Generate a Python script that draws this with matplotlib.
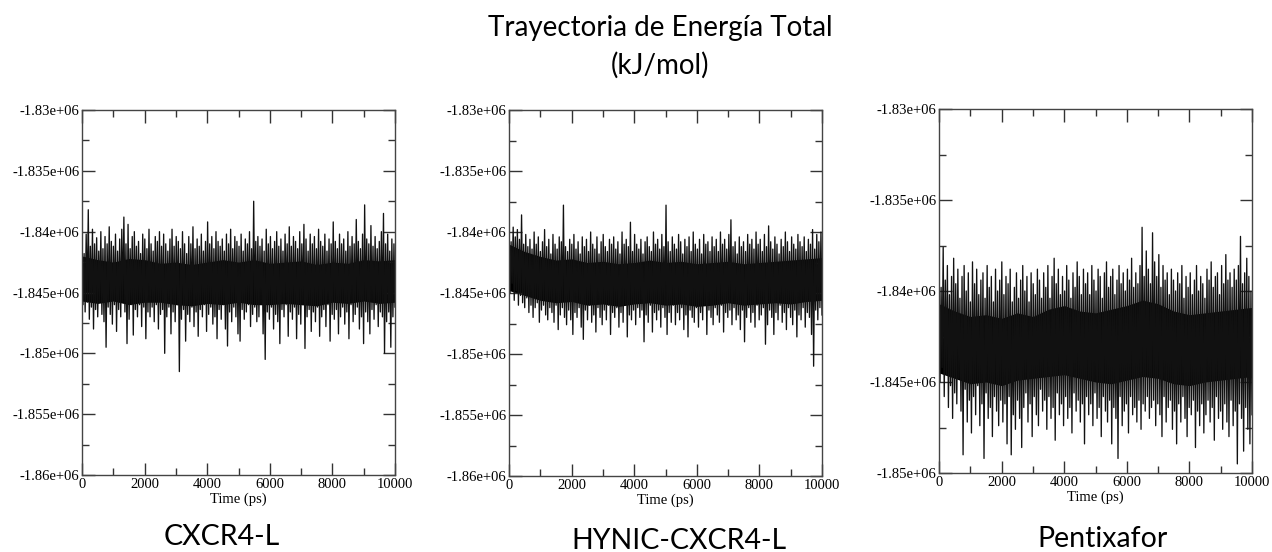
import numpy as np
import matplotlib
matplotlib.use("Agg")
import matplotlib.pyplot as plt
from matplotlib.ticker import MultipleLocator, FuncFormatter

# total energy, offset from -1.84e6 kJ/mol, in units of 100 kJ/mol
cxcr4_l = [
    -8, -60, -18, -66, -2, -58, 18, -72, -12, -62, 2, -80, -10, -64, -5, -70, -16, -58, 0, -68,
    -14, -74, -4, -95, -10, -62, 4, -68, -8, -76, -12, -60, -2, -82, -16, -64, -6, -70, 2, -58,
    12, -66, -10, -92, 6, -72, -14, -60, -4, -85, 0, -64, -12, -70, -8, -60, -18, -78, -2, -62,
    -6, -88, -14, -66, 2, -70, -10, -62, -16, -74, -4, -60, -8, -80, 0, -68, -12, -64, -2, -100,
    -10, -70, -16, -62, -6, -84, 2, -66, -12, -74, -4, -60, -8, -115, -14, -72, 0, -64, -10, -90,
    -18, -68, -4, -74, -10, -62, 4, -78, -14, -66, -6, -86, -12, -64, -2, -70, -16, -60, -8, -82,
    8, -68, -10, -62, -4, -76, -14, -70, 0, -88, -8, -64, -12, -72, -6, -60, -16, -80, -2, -94,
    -10, -66, 2, -74, -14, -62, -4, -70, -8, -84, -12, -90, -2, -64, -16, -72, -6, -66, -10, -60,
    0, -78, -14, -68, 25, -62, -8, -74, -4, -70, -12, -60, -6, -84, -16, -105, 2, -66, -10, -72,
    -4, -62, -14, -80, -8, -68, 0, -74, -12, -92, -6, -64, -16, -70, -2, -60, -10, -86, 4, -66,
    -12, -72, -4, -62, -8, -88, -14, -68, 0, -76, -10, -60, 6, -96, -6, -70, -16, -64, -2, -82,
    -10, -66, -4, -74, -14, -62, 2, -86, -8, -70, -12, -64, -2, -78, -16, -60, -6, -90, -10, -68,
    8, -72, -8, -64, -14, -84, -2, -70, -10, -62, -6, -76, -16, -66, 0, -88, -12, -60, -4, -74,
    -10, -68, 10, -62, -8, -80, -14, -70, -2, -92, 22, -66, -6, -74, -10, -84, 5, -64, -12, -72,
    -4, -60, -14, -78, -8, -66, 0, -70, 15, -100, -10, -74, -2, -66, -16, -95, -6, -70, -10, -62,
]

hynic_cxcr4_l = [
    0, -50, -8, -42, 4, -56, -4, -48, 2, -60, -6, -52, 14, -58, -10, -62, -2, -54, -12, -66,
    -6, -60, -14, -70, 0, -62, -10, -58, -4, -74, -16, -64, -8, -60, 2, -68, -12, -72, -6, -62,
    -18, -66, -2, -74, -10, -60, -14, -80, -4, -68, -8, -62, 22, -70, -12, -76, -16, -64, -6, -72,
    -10, -84, -2, -66, -14, -70, -8, -62, -18, -78, -4, -88, -12, -64, -6, -72, -16, -60, 0, -74,
    -10, -68, -14, -82, -4, -62, -18, -70, -8, -76, -2, -64, -12, -72, -16, -60, -6, -84, -10, -66,
    -4, -70, -14, -62, -8, -78, -18, -66, 0, -74, -10, -60, -6, -86, -12, -68, 8, -72, -16, -64,
    -2, -76, -10, -62, -14, -70, -6, -64, -18, -90, -8, -68, -4, -74, -12, -60, -16, -82, 0, -66,
    -10, -72, -6, -64, -14, -78, -2, -62, -12, -70, 22, -84, -8, -66, -16, -74, -4, -60, -10, -76,
    -14, -66, -2, -72, -8, -62, -18, -80, -6, -68, -12, -86, -4, -64, -16, -70, 0, -74, -10, -62,
    -14, -78, -6, -66, -18, -72, -2, -60, -10, -84, -8, -64, -16, -70, -4, -76, -12, -62, -6, -68,
    -16, -74, 0, -60, -10, -82, -6, -66, -14, -70, -2, -64, 10, -76, -12, -62, -8, -72, -18, -68,
    -4, -80, -12, -64, -8, -90, -16, -70, -2, -62, -10, -74, -6, -66, -14, -78, 0, -60, -10, -72,
    -6, -68, -16, -62, -2, -92, -12, -76, 5, -64, -8, -70, -14, -84, -4, -66, -10, -72, -18, -60,
    -6, -74, -12, -66, 0, -80, -8, -62, -16, -70, -4, -76, -10, -64, -14, -86, -2, -68, -8, -72,
    -12, -62, -4, -78, -16, -66, -6, -70, -10, -84, 2, -110, -14, -64, -2, -72, -8, -62, 0, -68,
]

pentixafor = [
    10, -50, 2, -42, 24, -58, 6, -46, 14, -64, -2, -52, 8, -70, 18, -56, 4, -62, 12, -48,
    -4, -66, 8, -90, 14, -54, 0, -72, 10, -60, -6, -78, 16, -58, 4, -68, 12, -52, -2, -74,
    6, -62, 10, -92, -4, -56, 14, -70, 2, -64, 8, -80, -6, -58, 12, -66, 0, -74, 6, -60,
    16, -72, -2, -62, 8, -84, 4, -58, 12, -90, -6, -68, 2, -76, 10, -60, -4, -70, 6, -86,
    14, -64, 0, -56, 8, -72, -6, -62, 10, -80, 4, -58, -2, -68, 12, -74, 6, -54, -4, -66,
    10, -60, 2, -76, 14, -58, -4, -70, 8, -64, 18, -82, 4, -56, 12, -68, -2, -62, 8, -74,
    0, -58, 14, -70, 6, -64, -4, -78, 10, -56, 2, -66, 16, -60, 8, -72, -2, -62, 12, -84,
    4, -58, 10, -68, -2, -62, 14, -74, 6, -56, 0, -70, 12, -64, 8, -80, -4, -58, 10, -66,
    16, -72, 2, -60, 8, -84, 12, -64, -2, -70, 6, -92, 14, -58, 4, -74, 10, -66, 0, -62,
    12, -78, 6, -58, 18, -68, 2, -64, 10, -72, 4, -60, 14, -76, 35, -62, 8, -66, 22, -58,
    12, -70, 4, -64, 32, -60, 16, -74, 8, -62, 20, -68, 2, -80, 14, -58, 6, -72, 10, -64,
    -2, -60, 12, -76, 6, -66, 0, -84, 10, -62, 4, -72, 14, -58, -4, -70, 8, -80, 2, -64,
    10, -68, -2, -60, 6, -86, 14, -66, 0, -74, 8, -62, 4, -78, -4, -68, 12, -60, 6, -72,
    16, -64, 2, -82, 8, -58, 10, -70, -2, -66, 14, -76, 4, -62, 20, -72, 6, -80, 10, -60,
    2, -74, 12, -66, 6, -95, 14, -62, 30, -70, 4, -88, 10, -64, 18, -76, 8, -84, 0, -68,
]

# solid core of each trace (same units), every 500 ps
core_t = [0, 500, 1000, 1500, 2000, 2500, 3000, 3500, 4000, 4500, 5000,
          5500, 6000, 6500, 7000, 7500, 8000, 8500, 9000, 9500, 10000]
cxcr4_hi = [-20, -23, -25, -22, -23, -26, -25, -27, -25, -23, -25,
            -23, -26, -25, -24, -27, -25, -26, -23, -24, -23]
cxcr4_lo = [-57, -59, -57, -60, -58, -58, -60, -61, -59, -60, -58,
            -60, -60, -59, -60, -61, -58, -59, -57, -59, -58]
hynic_hi = [-10, -16, -20, -23, -22, -25, -24, -26, -25, -23, -25,
            -24, -26, -25, -24, -26, -25, -24, -23, -22, -21]
hynic_lo = [-48, -52, -56, -58, -57, -60, -59, -61, -59, -58, -60,
            -59, -61, -60, -58, -60, -59, -58, -59, -57, -56]
pentix_hi = [-7, -11, -14, -13, -15, -12, -14, -10, -8, -11, -12,
             -10, -8, -5, -7, -11, -13, -12, -11, -10, -9]
pentix_lo = [-45, -48, -51, -50, -52, -49, -48, -47, -46, -48, -50,
             -51, -49, -47, -48, -51, -52, -50, -49, -48, -47]

names = ["CXCR4-L", "HYNIC-CXCR4-L", "Pentixafor"]
series = [cxcr4_l, hynic_cxcr4_l, pentixafor]
cores = [(cxcr4_hi, cxcr4_lo), (hynic_hi, hynic_lo), (pentix_hi, pentix_lo)]
ylims = [(-1.86e6, -1.83e6), (-1.86e6, -1.83e6), (-1.85e6, -1.83e6)]

W, H = 1272, 552
fig = plt.figure(figsize=(W / 100, H / 100), dpi=100)

# axes boxes in pixels: left, top, right, bottom
boxes = [(82, 110, 395, 475), (509, 110, 822, 476), (939, 109, 1252, 473)]
name_pos = [(222, 537), (679, 541), (1103, 539)]

serif = "Liberation Serif"
sans = ["Lato", "DejaVu Sans"]


def fmt(v, pos):
    m, e = ("%.6e" % v).split("e")
    return "%ge+%02d" % (float(m), int(e))


for vals, (hi, lo), (l, t, r, b), yl, nm, (nx, ny) in zip(
        series, cores, boxes, ylims, names, name_pos):
    ax = fig.add_axes([l / W, 1 - b / H, (r - l) / W, (b - t) / H])
    y = -1.84e6 + 100 * np.array(vals, dtype=float)
    x = np.linspace(0, 10000, len(y))
    ax.fill_between(core_t, -1.84e6 + 100 * np.array(lo, dtype=float),
                    -1.84e6 + 100 * np.array(hi, dtype=float),
                    color="black", lw=0)
    ax.plot(x, y, color="#111111", lw=0.95)
    ax.set_xlim(0, 10000)
    ax.set_ylim(*yl)
    ax.xaxis.set_major_locator(MultipleLocator(2000))
    ax.xaxis.set_minor_locator(MultipleLocator(1000))
    ax.yaxis.set_major_locator(MultipleLocator(5000))
    ax.yaxis.set_minor_locator(MultipleLocator(2500))
    ax.yaxis.set_major_formatter(FuncFormatter(fmt))
    ax.tick_params(which="both", direction="in", top=True, right=True,
                   color="#333333", width=1)
    ax.tick_params(which="major", length=9, labelsize=10.5, pad=2)
    ax.tick_params(which="minor", length=5)
    for lab in ax.get_xticklabels() + ax.get_yticklabels():
        lab.set_family(serif)
    for sp in ax.spines.values():
        sp.set_color("#444444")
        sp.set_linewidth(1)
    ax.set_xlabel("Time (ps)", fontfamily=serif, fontsize=10.5, labelpad=1.5)
    fig.text(nx / W, 1 - ny / H, nm, family=sans, fontsize=20.5,
             ha="center", va="center")

fig.text(660 / W, 1 - 28 / H, "Trayectoria de Energía Total", family=sans,
         fontsize=20, ha="center", va="center")
fig.text(660 / W, 1 - 65 / H, "(kJ/mol)", family=sans, fontsize=20,
         ha="center", va="center")

fig.savefig("out.png", dpi=100, facecolor="white")
